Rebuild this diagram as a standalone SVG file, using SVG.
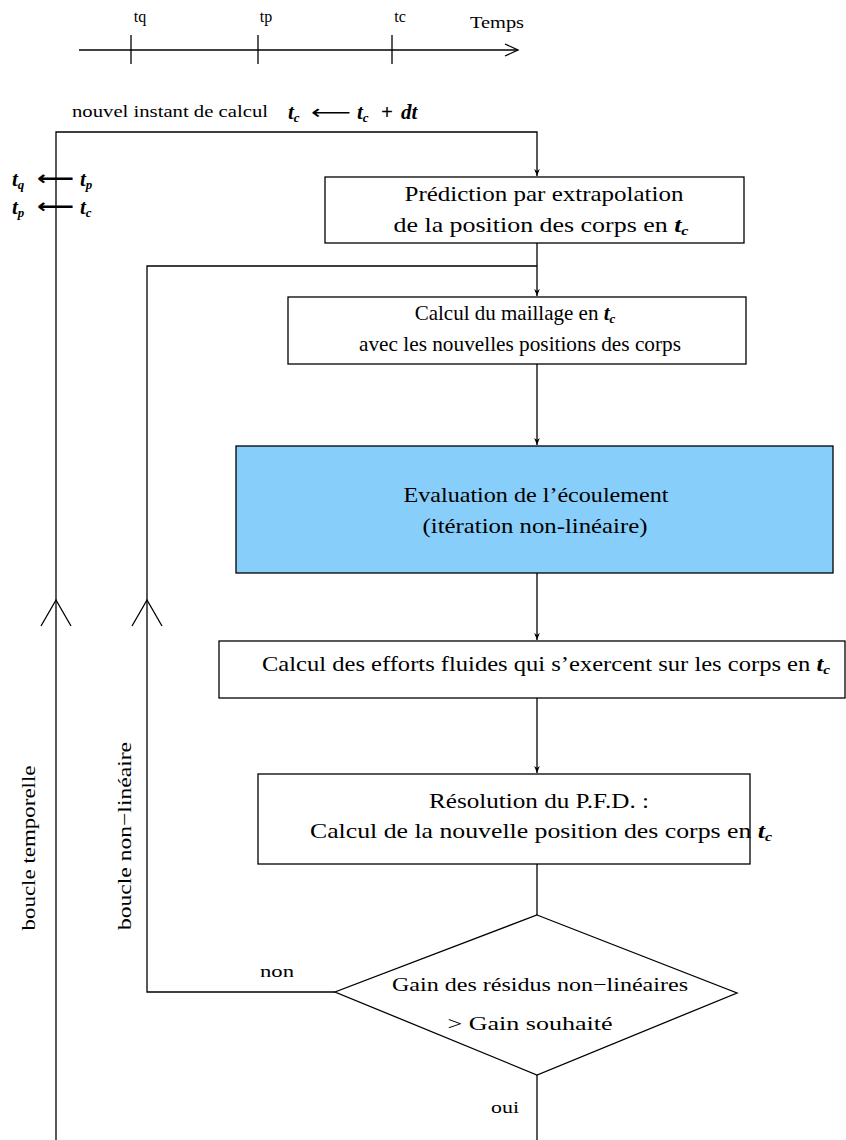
<svg xmlns="http://www.w3.org/2000/svg" width="846" height="1140" viewBox="0 0 846 1140">
<style>
.ln{stroke:#000;stroke-width:1.3;fill:none}
.box{stroke:#000;stroke-width:1.3;fill:#fff}
.blue{fill:#87cefa}
.t{font-family:"Liberation Serif",serif;font-size:21px;fill:#000;text-anchor:middle}
.s{font-family:"Liberation Serif",serif;font-size:16px;fill:#000}
.m{font-family:"Liberation Serif",serif;font-size:21px;font-style:italic;font-weight:bold;fill:#000}
.sub{font-size:13px}
.ar{font-family:"DejaVu Sans",sans-serif;font-size:20px;fill:#000}
</style>
<defs>
<marker id="ah" viewBox="0 0 10 10" refX="10" refY="5" markerWidth="7" markerHeight="7" orient="auto" markerUnits="userSpaceOnUse">
<path d="M0,1 L10,5 L0,9 L3,5 z" fill="#000"/>
</marker>
</defs>

<g id="timeline">
<line class="ln" x1="79" y1="50" x2="518" y2="50"/>
<path class="ln" d="M505,44 L518,50 L505,56"/>
<line class="ln" x1="131" y1="35" x2="131" y2="64"/>
<line class="ln" x1="258" y1="35" x2="258" y2="64"/>
<line class="ln" x1="392" y1="35" x2="392" y2="64"/>
<text class="s" x="140" y="22" text-anchor="middle">tq</text>
<text class="s" x="266" y="22" text-anchor="middle">tp</text>
<text class="s" x="400" y="22" text-anchor="middle">tc</text>
<text class="s" x="470" y="28" textLength="54" lengthAdjust="spacingAndGlyphs">Temps</text>
</g>

<g id="connectors">
<path class="ln" d="M56,1140 V132 H537 V176" marker-end="url(#ah)"/>
<path class="ln" d="M41,626 L56,600 L71,626"/>
<line class="ln" x1="537" y1="243" x2="537" y2="296" marker-end="url(#ah)"/>
<path class="ln" d="M335,992 H147 V266 H537"/>
<path class="ln" d="M132,626 L147,600 L162,626"/>
<line class="ln" x1="537" y1="364" x2="537" y2="445" marker-end="url(#ah)"/>
<line class="ln" x1="537" y1="573" x2="537" y2="640" marker-end="url(#ah)"/>
<line class="ln" x1="537" y1="698" x2="537" y2="773" marker-end="url(#ah)"/>
<line class="ln" x1="537" y1="864" x2="537" y2="915"/>
<line class="ln" x1="537" y1="1075" x2="537" y2="1140"/>
<text class="s" x="72" y="117" textLength="196" lengthAdjust="spacingAndGlyphs">nouvel instant de calcul</text>
<text class="m" x="288" y="119">t<tspan class="sub" dy="3">c</tspan></text>
<text class="ar" x="311" y="119" textLength="40" lengthAdjust="spacingAndGlyphs">⟵</text>
<text class="m" x="357" y="119">t<tspan class="sub" dy="3">c</tspan></text>
<text class="m" x="381" y="119" style="font-style:normal">+</text>
<text class="m" x="401" y="119">dt</text>
<text class="m" x="12" y="186">t<tspan class="sub" dy="3">q</tspan></text>
<text class="ar" x="37" y="185" textLength="37" lengthAdjust="spacingAndGlyphs" style="font-weight:bold">⟵</text>
<text class="m" x="80" y="186">t<tspan class="sub" dy="3">p</tspan></text>
<text class="m" x="12" y="214">t<tspan class="sub" dy="3">p</tspan></text>
<text class="ar" x="37" y="213" textLength="37" lengthAdjust="spacingAndGlyphs" style="font-weight:bold">⟵</text>
<text class="m" x="80" y="214">t<tspan class="sub" dy="3">c</tspan></text>
<text class="s" x="0" y="0" style="font-size:19px" text-anchor="middle" textLength="165" lengthAdjust="spacingAndGlyphs" transform="translate(35,848) rotate(-90)">boucle temporelle</text>
<text class="s" x="0" y="0" style="font-size:19px" text-anchor="middle" textLength="188" lengthAdjust="spacingAndGlyphs" transform="translate(131,836) rotate(-90)">boucle non−linéaire</text>
<text class="s" x="260" y="977" style="font-size:17px" textLength="34" lengthAdjust="spacingAndGlyphs">non</text>
<text class="s" x="491" y="1113" style="font-size:17px" textLength="28" lengthAdjust="spacingAndGlyphs">oui</text>
</g>

<g id="prediction">
<rect class="box" x="325" y="177" width="419" height="66"/>
<text class="t" x="544" y="201" textLength="279" lengthAdjust="spacingAndGlyphs">Prédiction par extrapolation</text>
<text class="t" x="541" y="232" textLength="295" lengthAdjust="spacingAndGlyphs">de la position des corps en <tspan class="m">t</tspan><tspan class="m sub" dy="3">c</tspan></text>
</g>

<g id="maillage">
<rect class="box" x="288" y="297" width="458" height="67"/>
<text class="t" x="515" y="320">Calcul du maillage en <tspan class="m">t</tspan><tspan class="m sub" dy="3">c</tspan></text>
<text class="t" x="520" y="351" textLength="322" lengthAdjust="spacingAndGlyphs">avec les nouvelles positions des corps</text>
</g>

<g id="ecoulement">
<rect class="box blue" x="236" y="446" width="597" height="127"/>
<text class="t" x="536" y="502" textLength="265" lengthAdjust="spacingAndGlyphs">Evaluation de l’écoulement</text>
<text class="t" x="535" y="533" textLength="225" lengthAdjust="spacingAndGlyphs">(itération non-linéaire)</text>
</g>

<g id="efforts">
<rect class="box" x="219" y="641" width="626" height="57"/>
<text class="t" x="546" y="671" textLength="568" lengthAdjust="spacingAndGlyphs">Calcul des efforts fluides qui s’exercent sur les corps en <tspan class="m">t</tspan><tspan class="m sub" dy="3">c</tspan></text>
</g>

<g id="pfd">
<rect class="box" x="258" y="774" width="492" height="90"/>
<text class="t" x="539" y="808" textLength="220" lengthAdjust="spacingAndGlyphs">Résolution du P.F.D. :</text>
<text class="t" x="541" y="838" textLength="462" lengthAdjust="spacingAndGlyphs">Calcul de la nouvelle position des corps en <tspan class="m">t</tspan><tspan class="m sub" dy="3">c</tspan></text>
</g>

<g id="test">
<path class="box" d="M537,915 L737,993 L537,1075 L335,992 Z"/>
<text class="s" x="540" y="991" style="font-size:19px" text-anchor="middle" textLength="296" lengthAdjust="spacingAndGlyphs">Gain des résidus non−linéaires</text>
<text class="s" x="530" y="1030" style="font-size:19px" text-anchor="middle" textLength="165" lengthAdjust="spacingAndGlyphs">&gt; Gain souhaité</text>
</g>
</svg>
